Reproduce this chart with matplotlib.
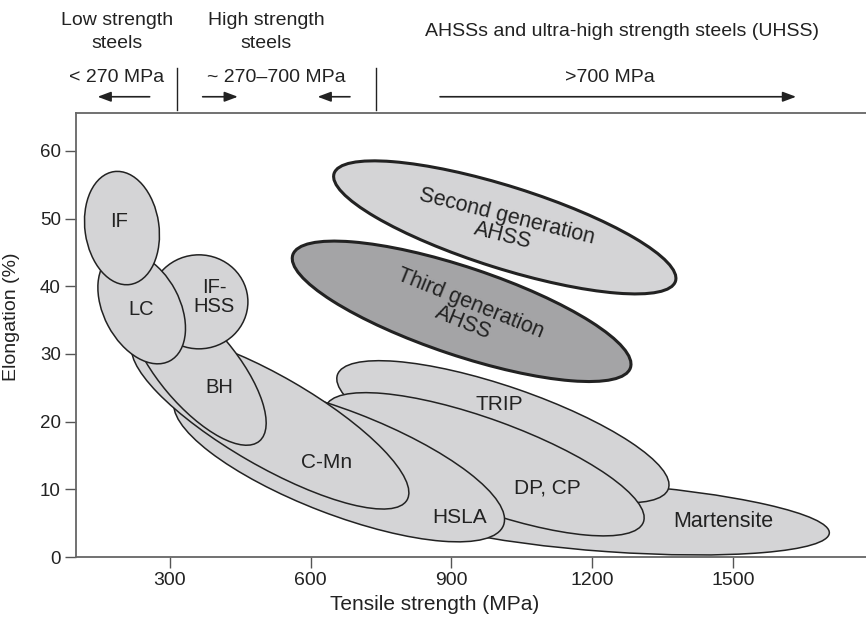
import matplotlib.pyplot as plt
from matplotlib.patches import Ellipse
from matplotlib import transforms

# familias de aco: centro de cada elipse (resistencia MPa, alongamento %)
familias = ['Martensite', 'TRIP', 'DP, CP', 'HSLA', 'C-Mn', 'BH', 'IF-HSS', 'LC', 'IF',
            'Second generation AHSS', 'Third generation AHSS']
centro_ts = [1238, 1010, 971, 661, 514, 358, 362, 240, 198, 1014, 922]
centro_el = [5.8, 18.5, 13.7, 14.0, 20.1, 28.1, 37.7, 36.8, 48.6, 48.7, 36.3]

# rotulos dentro das elipses
rotulos = ['Martensite', 'TRIP', 'DP, CP', 'HSLA', 'C-Mn', 'BH', 'IF-\nHSS', 'LC', 'IF',
           'Second generation\nAHSS', 'Third generation\nAHSS']
rot_ts = [1480, 1003, 1104, 918, 634, 405, 394, 240, 191, 1014, 933]
rot_el = [5.2, 22.5, 10.2, 5.8, 14.0, 25.0, 38.4, 36.5, 49.5, 48.9, 36.0]

xticks = [300, 600, 900, 1200, 1500]
yticks = [0, 10, 20, 30, 40, 50, 60]

# faixas de resistencia (cabecalho)
classes = ['Low strength\nsteels', 'High strength\nsteels',
           'AHSSs and ultra-high strength steels (UHSS)']
classes_x = [187, 506, 1264]
faixas = ['< 270 MPa', '~ 270\u2013700 MPa', '>700 MPa']
faixas_x = [187, 528, 1238]
limites = [315, 739]

# forma das elipses em pixels: eixo maior, eixo menor, angulo
formas = [(440, 68, -4), (350, 90, -19), (338, 90, -20), (352, 104, -21),
          (316, 90, -30), (194, 78, -50), (98, 94, 0), (120, 76, -62),
          (114, 74, 98), (358, 82, -17.5), (356, 88, -18.5)]
rot_angulo = [0, 0, 0, 0, 0, 0, 0, 0, 0, -14, -22]
rot_tamanho = [15.5, 15, 15, 15, 15, 14.5, 14.5, 14.5, 14.5, 15.5, 15.5]

fonte = ['Liberation Sans', 'DejaVu Sans']
escuro = '#222222'

fig = plt.figure(figsize=(8.66, 6.22), dpi=100)
ax = fig.add_axes([76/866, 65/622, 790/866, 444/622])
ax.set_xlim(100, 1784)
ax.set_ylim(0, 65.6)

for i in range(len(familias)):
    w, h, ang = formas[i]
    trans = fig.dpi_scale_trans + transforms.ScaledTranslation(centro_ts[i], centro_el[i], ax.transData)
    if i == 10:
        cor, lw = '#a4a4a6', 2.2
    elif i == 9:
        cor, lw = '#d4d4d6', 2.2
    else:
        cor, lw = '#d4d4d6', 1.1
    e = Ellipse((0, 0), w/100, h/100, angle=ang, transform=trans,
                facecolor=cor, edgecolor=escuro, linewidth=lw, zorder=2+i*0.01)
    ax.add_patch(e)

for i in range(len(rotulos)):
    ax.text(rot_ts[i], rot_el[i], rotulos[i], ha='center', va='center', fontsize=rot_tamanho[i],
            family=fonte, color='#222222', rotation=rot_angulo[i], rotation_mode='anchor',
            linespacing=0.95, zorder=5)

ax.set_xticks(xticks)
ax.set_yticks(yticks)
ax.set_xticklabels([str(v) for v in xticks], family=fonte, fontsize=14, color='#222222')
ax.set_yticklabels([str(v) for v in yticks], family=fonte, fontsize=13.5, color='#222222')
ax.tick_params(axis='both', length=8, width=1, color='#555555', direction='out', pad=3)
ax.set_xlabel('Tensile strength (MPa)', family=fonte, fontsize=15, color='#222222')
ax.set_ylabel('Elongation (%)', family=fonte, fontsize=14, color='#222222')
ax.xaxis.set_label_coords(0.454, -0.085)
ax.yaxis.set_label_coords(-0.071, 0.54)
ax.spines['right'].set_visible(False)
for s in ['top', 'bottom', 'left']:
    ax.spines[s].set_color('#666666')
    ax.spines[s].set_linewidth(1.3)

# cabecalho acima do grafico
for i in range(len(classes)):
    ax.text(classes_x[i], 77.6, classes[i], ha='center', va='center', fontsize=14,
            family=fonte, color='#222222', linespacing=1.45, clip_on=False)
for i in range(len(faixas)):
    ax.text(faixas_x[i], 70.9, faixas[i], ha='center', va='center', fontsize=14,
            family=fonte, color='#222222', clip_on=False)
for lx in limites:
    ax.plot([lx, lx], [66.1, 72.3], color=escuro, lw=1, clip_on=False)

setas = [(257, 146), (370, 445), (684, 615), (876, 1635)]
for x0, x1 in setas:
    ax.annotate('', xy=(x1, 68.0), xytext=(x0, 68.0), annotation_clip=False,
                arrowprops=dict(arrowstyle='-|>,head_length=0.8,head_width=0.3',
                                lw=1.2, color=escuro, shrinkA=0, shrinkB=0))

plt.savefig('out.png', dpi=100)
